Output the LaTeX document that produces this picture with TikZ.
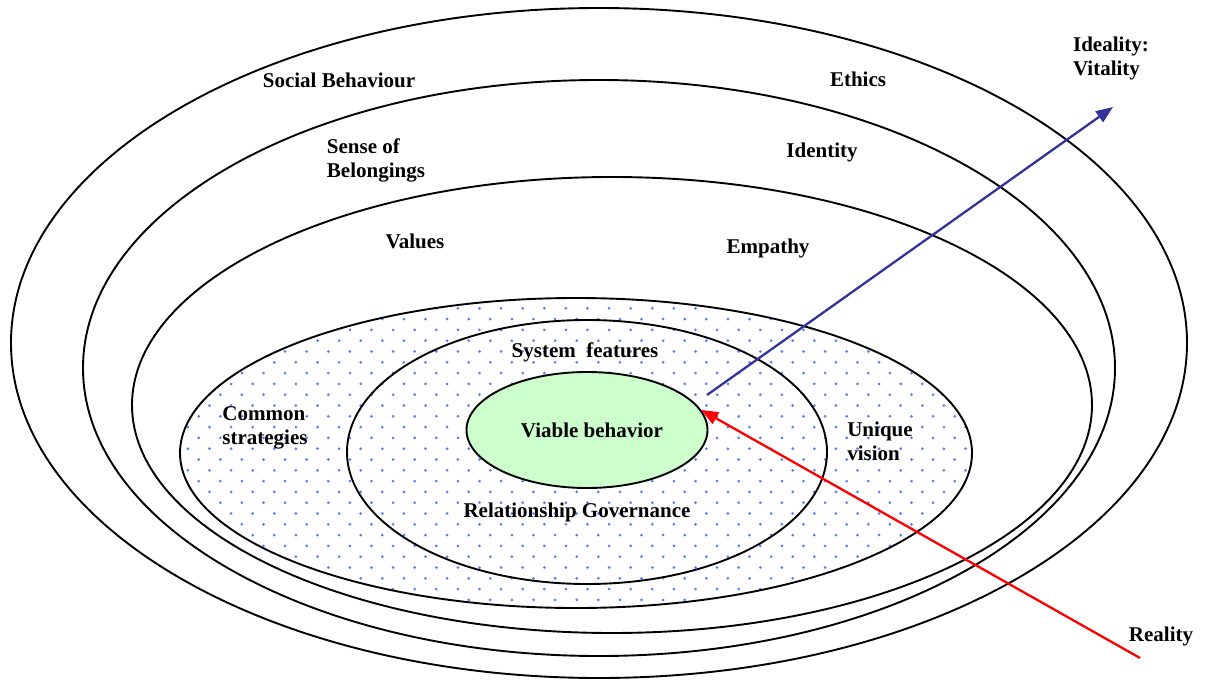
\documentclass[tikz,border=0pt]{standalone}
\usepackage{fontspec}
\setmainfont{Liberation Serif}
\usetikzlibrary{shapes.geometric,arrows.meta}

\definecolor{viablegreen}{RGB}{204,255,204}
\definecolor{dotblue}{RGB}{90,125,245}
\definecolor{idealblue}{RGB}{51,51,153}

\tikzset{
  ring/.style={line width=1.9pt},
  lbl/.style={font=\bfseries\fontsize{21}{24}\selectfont, align=left, inner sep=0pt},
  pointer/.style={line width=2.3pt, -{Triangle[length=17pt,width=13pt]}}
}

\begin{document}
\begin{tikzpicture}[x=1pt, y=-1pt]
\useasboundingbox (0,0) rectangle (1205,680);

% the rings, outside in
\draw[ring] (599,343) ellipse [x radius=588, y radius=335];
\draw[ring] (599,368) ellipse [x radius=516, y radius=288];
\draw[ring] (612,405) ellipse [x radius=480, y radius=228];

% dotted band
\begin{scope}
  \clip (576,453) ellipse [x radius=396, y radius=155];
  \foreach \j in {0,...,29} {
    \pgfmathsetmacro\off{mod(\j,2)*10.8}
    \foreach \i in {0,...,38}
      \fill[dotblue] (166.3+\off+\i*21.6, 297.5+\j*10.8) circle (1.5);
  }
\end{scope}
\draw[ring] (576,453) ellipse [x radius=396, y radius=155];
\draw[ring] (587,452) ellipse [x radius=240, y radius=132];

\node[ellipse, ring, draw, fill=viablegreen, minimum width=241pt, minimum height=116pt, inner sep=0pt] (viable) at (587,430) {};
\node[lbl] (viabletxt) at (592,430) {Viable behavior};

% labels
\node[lbl] (social) at (339,80) {Social Behaviour};
\node[lbl] (ethics) at (858,79) {Ethics};
\node[lbl] (ideality) at (1111,58) {Ideality:\\Vitality};
\node[lbl] (sense) at (376,160) {Sense of\\Belongings};
\node[lbl] (identity) at (822,152) {Identity};
\node[lbl] (values) at (415,241) {Values};
\node[lbl] (empathy) at (768,248) {Empathy};
\node[lbl] (system) at (585,352) {System\hspace{0.5em}features};
\node[lbl] (common) at (265,428) {Common\\strategies};
\node[lbl] (unique) at (880,441) {Unique\\vision};
\node[lbl] (govern) at (577,512) {Relationship Governance};
\node[lbl] (reality) at (1161,636) {Reality};

% arrows
\coordinate (rise) at (707,395);
\coordinate (ideal) at (1113,107);
\coordinate (real) at (1140,658);
\draw[pointer, idealblue] (rise) -- (ideal);
\draw[pointer, red] (real) -- (viable.10);

\end{tikzpicture}
\end{document}
